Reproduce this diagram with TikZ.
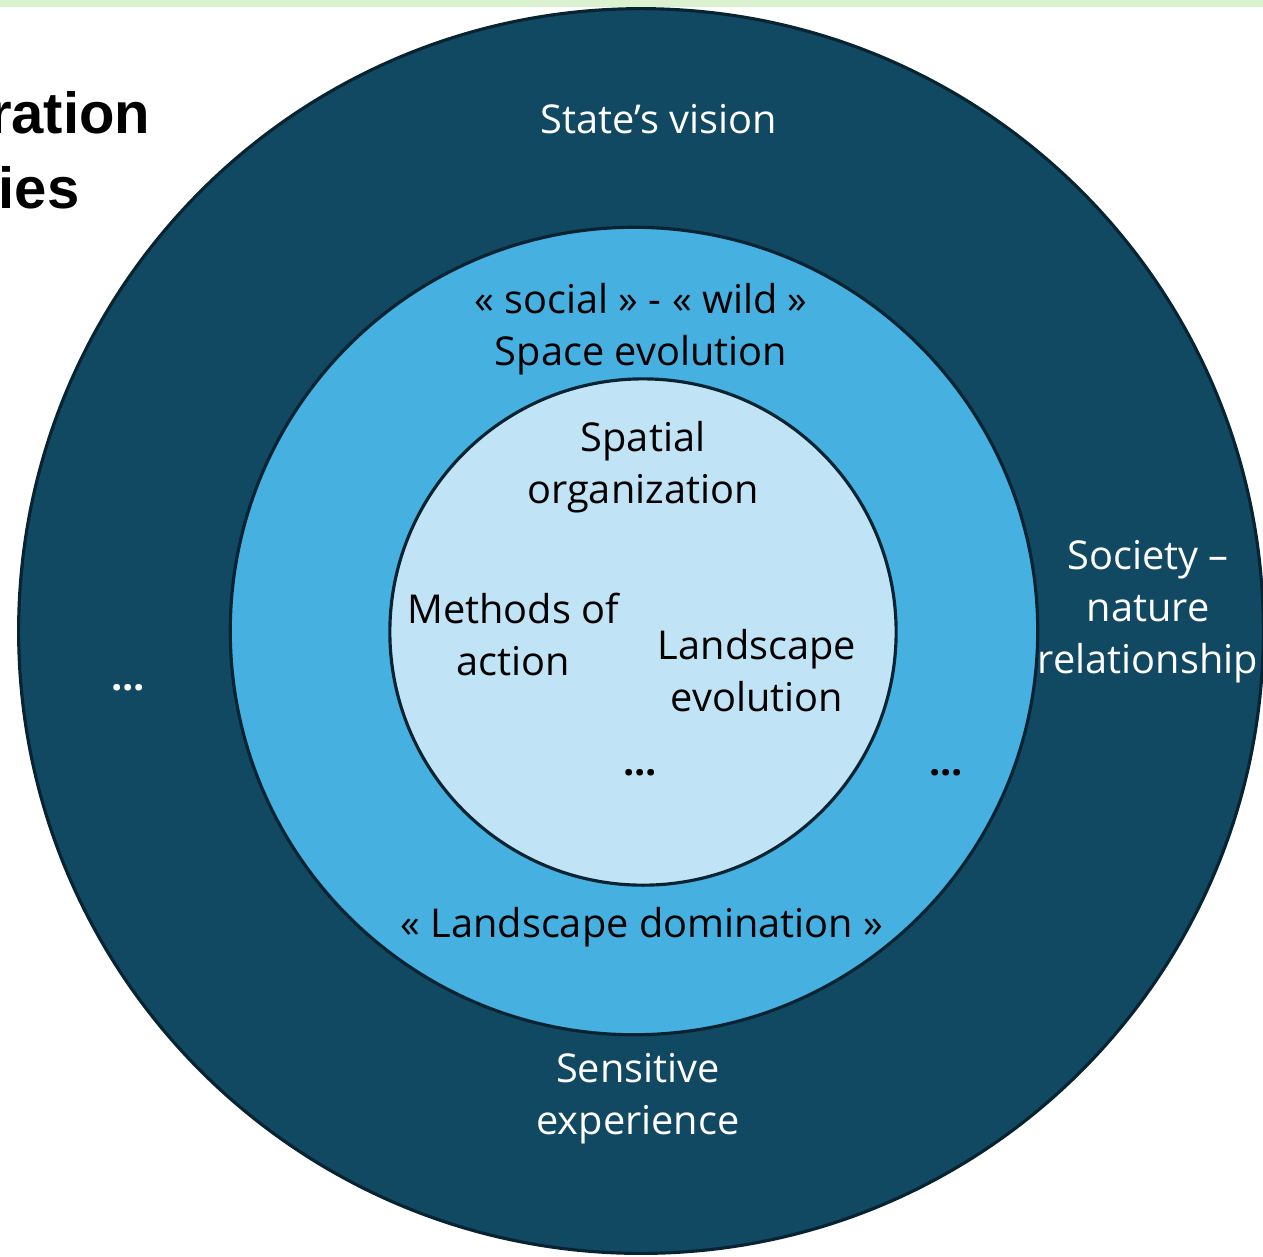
\documentclass[tikz,border=0pt]{standalone}
\usepackage{fontspec}
\setmainfont{Open Sans}
\newfontfamily\titlefont{Liberation Sans}
\usepackage{tikz}
\usetikzlibrary{positioning}
\definecolor{mydeepteal}{RGB}{17,72,98}
\definecolor{myedge}{RGB}{8,36,50}
\definecolor{mysky}{RGB}{70,176,225}
\definecolor{mypale}{RGB}{192,228,245}
\definecolor{mymint}{RGB}{218,242,208}
\tikzstyle{ring}=[draw=myedge,line width=0.9pt,circle,inner sep=0pt]
\tikzstyle{lbl}=[align=center,font=\fontsize{11.3}{14.8}\selectfont]
\tikzstyle{lightlbl}=[lbl,text=white]
\tikzstyle{darklbl}=[lbl,text=black]
\tikzstyle{dotlbl}=[font=\bfseries\fontsize{11.3}{14.8}\selectfont]
\tikzstyle{titlelbl}=[anchor=base east,inner sep=0pt,font=\titlefont\bfseries\fontsize{16.5}{21}\selectfont]
\begin{document}
\begin{tikzpicture}[x=0.01cm,y=-0.01cm]
\useasboundingbox (0,0) rectangle (1263,1256);
\clip (0,0) rectangle (1263,1256);
\fill[mymint] (0,0) rectangle (1263,7);
\node [titlelbl] (t1) at (151,133) {ration};
\node [titlelbl] (t2) at (80,208) {ies};
% the three rings
\node [ring, fill=mydeepteal, minimum size=12.44cm] (outer) at (641,631) {};
\node [ring, fill=mysky, minimum size=8.07cm] (middle) at (634,631) {};
\node [ring, fill=mypale, minimum size=5.06cm] (inner) at (643,632) {};
% outer ring texts
\node [lightlbl] (vision) at (659,119) {State’s vision};
\node [lightlbl] (society) at (1148,612) {Society –\\nature\\relationship};
\node [lightlbl] (sensitive) at (638,1099) {Sensitive\\experience};
\node [lightlbl, dotlbl] (odots) at (128,688) {...};
% middle ring texts
\node [darklbl] (space) at (641,329) {« social » - « wild »\\Space evolution};
\node [darklbl] (domination) at (642,927) {« Landscape domination »};
\node [darklbl, dotlbl] (mdots) at (946,773) {...};
% inner circle texts
\node [darklbl] (spatial) at (643,467) {Spatial\\organization};
\node [darklbl] (methods) at (513,634) {Methods of\\action};
\node [darklbl] (landscape) at (757,671) {Landscape\\evolution};
\node [darklbl, dotlbl] (idots) at (640,773) {...};
\end{tikzpicture}
\end{document}
